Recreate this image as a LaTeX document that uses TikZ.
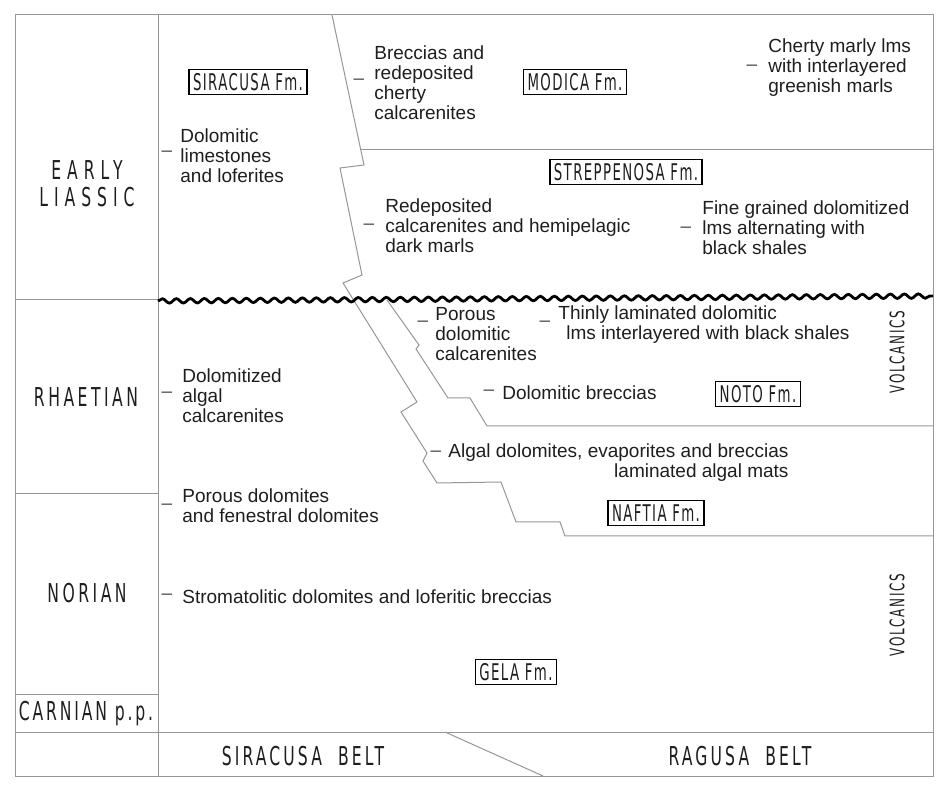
\documentclass[tikz,border=0pt]{standalone}
\usepackage{fontspec}
\setmainfont{Liberation Sans}
\newfontfamily\techfont[FakeStretch=0.58,LetterSpace=6]{DejaVu Sans}
\newfontfamily\agefont[FakeStretch=0.6,LetterSpace=13.5]{DejaVu Sans}
\newfontfamily\agewidefont[FakeStretch=0.6,LetterSpace=23]{DejaVu Sans}
\newfontfamily\carnfont[FakeStretch=0.6,LetterSpace=11]{DejaVu Sans}
\newfontfamily\beltfont[FakeStretch=0.6,LetterSpace=12]{DejaVu Sans}
\newfontfamily\volcfont[FakeStretch=0.6,LetterSpace=8.5]{DejaVu Sans}
\usetikzlibrary{decorations.pathmorphing,positioning,calc}
\definecolor{rulegray}{RGB}{150,150,150}
\definecolor{inkgray}{RGB}{30,30,30}

\begin{document}
\begin{tikzpicture}[x=0.5pt,y=-0.5pt,%
        desc/.style={anchor=west,align=left,inner sep=0pt,
          font=\fontsize{9.5}{10}\selectfont,text=inkgray},
        dashmark/.style={inner sep=0pt,font=\fontsize{9.5}{10}\selectfont,text=inkgray!80},
        fmbox/.style={draw=black,line width=0.7pt,inner xsep=2pt,inner ysep=2pt,
          font=\techfont\fontsize{11.5}{11.5}\selectfont,text=inkgray},
        agelbl/.style={align=center,inner sep=0pt,
          font=\agefont\fontsize{13}{13.5}\selectfont,text=inkgray},
        rule/.style={draw=rulegray,line width=0.5pt}]

        \useasboundingbox (0,0) rectangle (937,785);

        %% frame and age column
        \draw[rule] (15,15) rectangle (933,776);
        \draw[rule] (158,15) -- (158,776);
        \foreach \y in {300,494,694} {
          \draw[rule] (15,\y) -- (158,\y);
        }
        \draw[rule] (15,732) -- (933,732);

        %% facies boundaries
        \draw[rule] (332,15) -- (364,165) -- (340,168) -- (362,275) -- (343,283)
          -- (417,402) -- (401,412) -- (427,453) -- (423,461) -- (437,483)
          -- (501,482) -- (516,522) -- (560,522) -- (565,536) -- (933,536);
        \draw[rule] (361,150) -- (933,150);
        \draw[rule] (387,300) -- (419,345) -- (416,349) -- (448,398) -- (470,398)
          -- (487,426) -- (933,426);
        \draw[rule] (445,732) -- (543,776);

        %% unconformity
        \draw[line width=1.4pt,decorate,
          decoration={snake,segment length=7pt,amplitude=1.1pt}] (158,301) -- (933,296);

        %% ages
        \node[agelbl,font=\agewidefont\fontsize{13}{13.5}\selectfont] (age_liassic) at (87,184) {EARLY\\LIASSIC};
        \node[agelbl] (age_rhaetian) at (86,397) {RHAETIAN};
        \node[agelbl] (age_norian) at (87,593) {NORIAN};
        \node[agelbl,font=\carnfont\fontsize{13}{13.5}\selectfont] (age_carnian) at (86,714) {CARNIAN p.p.};

        %% belts
        \node[agelbl,font=\beltfont\fontsize{13}{13.5}\selectfont] (belt_sir) at (303,756) {SIRACUSA\ \ BELT};
        \node[agelbl,font=\beltfont\fontsize{13}{13.5}\selectfont] (belt_rag) at (740,756) {RAGUSA\ \ BELT};

        %% volcanics
        \node[rotate=90,inner sep=0pt,font=\volcfont\fontsize{10}{10}\selectfont,text=inkgray] (volc_up) at (897,352) {VOLCANICS};
        \node[rotate=90,inner sep=0pt,font=\volcfont\fontsize{10}{10}\selectfont,text=inkgray] (volc_lo) at (897,615) {VOLCANICS};

        %% formations
        \node[fmbox] (fm_siracusa) at (248,82) {SIRACUSA Fm.};
        \node[fmbox] (fm_modica) at (575,82) {MODICA Fm.};
        \node[fmbox] (fm_strepp) at (626,172) {STREPPENOSA Fm.};
        \node[fmbox] (fm_noto) at (758,394) {NOTO Fm.};
        \node[fmbox] (fm_naftia) at (656,513) {NAFTIA Fm.};
        \node[fmbox] (fm_gela) at (516,672) {GELA Fm.};

        %% lithologies
        \node[desc] (lit_dolo) at (180,156) {Dolomitic\\limestones\\and loferites};
        \node[desc] (lit_brec) at (374,83) {Breccias and\\redeposited\\cherty\\calcarenites};
        \node[desc] (lit_chert) at (768,68) {Cherty marly lms\\with interlayered\\greenish marls};
        \node[desc] (lit_redep) at (385,226) {Redeposited\\calcarenites and hemipelagic\\dark marls};
        \node[desc] (lit_fine) at (702,228) {Fine grained dolomitized\\lms alternating with\\black shales};
        \node[desc] (lit_porous) at (435,334) {Porous\\dolomitic\\calcarenites};
        \node[desc] (lit_thin) at (558,325) {Thinly laminated dolomitic\\\hspace*{4pt}lms interlayered with black shales};
        \node[desc] (lit_dolz) at (182,396) {Dolomitized\\algal\\calcarenites};
        \node[desc] (lit_dbrec) at (502,393) {Dolomitic breccias};
        \node[desc,align=right] (lit_algal) at (448,463) {Algal dolomites, evaporites and breccias\\laminated algal mats};
        \node[desc] (lit_fenes) at (182,506) {Porous dolomites\\and fenestral dolomites};
        \node[desc] (lit_strom) at (182,597) {Stromatolitic dolomites and loferitic breccias};

        %% tick marks
        \node[dashmark] (dsh_dolo) at (167,154) {--};
        \node[dashmark] (dsh_brec) at (359,82) {--};
        \node[dashmark] (dsh_chert) at (752,68) {--};
        \node[dashmark] (dsh_redep) at (369,227) {--};
        \node[dashmark] (dsh_fine) at (686,230) {--};
        \node[dashmark] (dsh_porous) at (423,324) {--};
        \node[dashmark] (dsh_thin) at (545,324) {--};
        \node[dashmark] (dsh_dolz) at (167,395) {--};
        \node[dashmark] (dsh_dbrec) at (489,393) {--};
        \node[dashmark] (dsh_algal) at (436,454) {--};
        \node[dashmark] (dsh_fenes) at (167,507) {--};
        \node[dashmark] (dsh_strom) at (167,597) {--};

      \end{tikzpicture}
\end{document}
